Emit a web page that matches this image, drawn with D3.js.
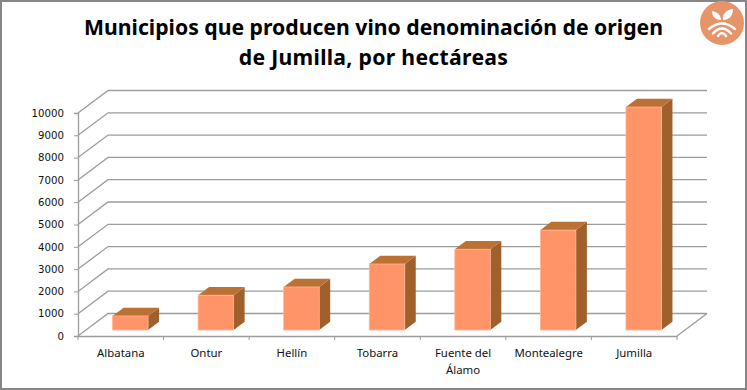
<!DOCTYPE html>
<html>

<head>
    <meta charset="UTF-8">
    <title>Municipios que producen vino denominación de origen de Jumilla</title>
    <script src="https://d3js.org/d3.v7.min.js"></script>
    <style>
        html, body { margin: 0; padding: 0; background: #fff; overflow: hidden; }
        svg { display: block; }
    </style>
</head>

<body>
    <script>
        const municipios = ["Albatana", "Ontur", "Hellín", "Tobarra", "Fuente del|Álamo", "Montealegre", "Jumilla"];
        const hectareas = [630, 1560, 1930, 2960, 3620, 4480, 10000];
        const yTicks = [0, 1000, 2000, 3000, 4000, 5000, 6000, 7000, 8000, 9000, 10000];
        const titleLines = ["Municipios que producen vino denominación de origen", "de Jumilla, por hectáreas"];

        const width = 747, height = 390;
        const depth = { x: 30, y: -22.5 };      // floor depth, front to back wall
        const barDepth = { x: 11, y: -8.3 };    // depth of a bar
        const barShift = { x: 9.5, y: -6 };     // bars sit a bit behind the front edge

        const xScale = d3.scaleBand().domain(municipios).range([78, 677]).paddingInner(0).paddingOuter(0);
        const yScale = d3.scaleLinear().domain([0, 10000]).range([336, 113]);

        const svg = d3.select("body").append("svg")
            .attr("width", width).attr("height", height);

        svg.append("rect")
            .attr("x", 1).attr("y", 1)
            .attr("width", 745).attr("height", 388)
            .attr("fill", "#fff").attr("stroke", "#868686").attr("stroke-width", 2);

        // gridlines on the side and back wall
        const grid = svg.append("g").attr("fill", "none").attr("stroke", "#9c9c9c").attr("stroke-width", 1.3);
        grid.selectAll("path")
            .data(yTicks)
            .enter().append("path")
            .attr("d", d => {
                const y = yScale(d);
                return `M${xScale.range()[0]},${y}L${xScale.range()[0] + depth.x},${y + depth.y}H${xScale.range()[1] + depth.x}`;
            });

        // floor right edge
        grid.append("path")
            .attr("d", `M${xScale.range()[1]},${yScale(0)}L${xScale.range()[1] + depth.x},${yScale(0) + depth.y}`);

        const yAxis = d3.axisLeft(yScale).tickValues(yTicks).tickSize(4).tickFormat(d3.format("d"));
        const yG = svg.append("g").attr("transform", `translate(${xScale.range()[0]},0)`).call(yAxis);
        yG.select(".domain").attr("stroke", "#9c9c9c").attr("stroke-width", 1.3);
        yG.selectAll("line").attr("stroke", "#9c9c9c");
        yG.selectAll("text")
            .attr("font-family", "DejaVu Sans").attr("font-size", 10.2).attr("fill", "#111")
            .attr("x", -14);

        const xAxis = d3.axisBottom(xScale).tickSize(0).tickFormat("");
        const xG = svg.append("g").attr("transform", `translate(0,${yScale(0)})`).call(xAxis);
        xG.select(".domain").attr("stroke", "#9c9c9c").attr("stroke-width", 1.6);

        // ticks sit between categories
        const edges = municipios.map(d => xScale(d)).concat(xScale.range()[1]);
        xG.selectAll(".edge")
            .data(edges)
            .enter().append("line")
            .attr("class", "edge")
            .attr("x1", d => d).attr("x2", d => d)
            .attr("y1", 0).attr("y2", 4)
            .attr("stroke", "#9c9c9c");

        const labels = svg.append("g")
            .attr("font-family", "Noto Sans").attr("font-size", 11.4).attr("fill", "#111")
            .attr("text-anchor", "middle");
        labels.selectAll("text")
            .data(municipios)
            .enter().append("text")
            .attr("transform", d => `translate(${xScale(d) + xScale.bandwidth() / 2},357)`)
            .selectAll("tspan")
            .data(d => d.split("|"))
            .enter().append("tspan")
            .attr("x", 0)
            .attr("y", (d, i) => i * 16.5)
            .text(d => d);

        // bars: side, top and front faces
        const barWidth = 35.5;
        const barX = d => xScale(d) + (xScale.bandwidth() - barWidth) / 2 + barShift.x;
        const bars = svg.append("g").selectAll("g")
            .data(municipios.map((name, i) => ({ name, value: hectareas[i] })))
            .enter().append("g");

        bars.append("path")
            .attr("fill", "#9f602c")
            .attr("d", d => {
                const x = barX(d.name) + barWidth, y0 = yScale(0) + barShift.y, y1 = yScale(d.value) + barShift.y;
                return `M${x},${y0}V${y1}l${barDepth.x},${barDepth.y}V${y0 + barDepth.y}Z`;
            });
        bars.append("path")
            .attr("fill", "#bb7133")
            .attr("d", d => {
                const x = barX(d.name), y1 = yScale(d.value) + barShift.y;
                return `M${x},${y1}h${barWidth}l${barDepth.x},${barDepth.y}h${-barWidth}Z`;
            });
        bars.append("rect")
            .attr("fill", "#ff9468")
            .attr("stroke", "#ffb592").attr("stroke-width", 0.8)
            .attr("x", d => barX(d.name))
            .attr("y", d => yScale(d.value) + barShift.y)
            .attr("width", barWidth)
            .attr("height", d => yScale(0) - yScale(d.value));

        svg.append("g")
            .attr("font-family", "Noto Sans").attr("font-weight", 700).attr("font-size", 21.2)
            .attr("fill", "#000").attr("text-anchor", "middle")
            .selectAll("text")
            .data(titleLines)
            .enter().append("text")
            .attr("x", 373.5)
            .attr("y", (d, i) => 35 + i * 30)
            .attr("letter-spacing", (d, i) => i ? 0.3 : 0)
            .text(d => d);

        // logo
        const logo = svg.append("g").attr("transform", "translate(722,23)");
        logo.append("circle").attr("r", 22).attr("fill", "#e7946b");
        logo.append("path").attr("fill", "#fff")
            .attr("d", "M-1,-3C-6,-3 -10,-6 -10,-12C-5,-11 -1,-8 -1,-3Z");
        logo.append("path").attr("fill", "#fff")
            .attr("d", "M1,-3C0,-9 4,-13 11,-14C11,-7 7,-3 1,-3Z");
        logo.selectAll(".arc")
            .data([[13, 6, 0.5], [9, 10.5, 5.5], [4, 13, 10]])
            .enter().append("path")
            .attr("fill", "none").attr("stroke", "#fff").attr("stroke-width", 2.4).attr("stroke-linecap", "round")
            .attr("d", d => `M${-d[0]},${d[1]}Q0,${2 * d[2] - d[1]} ${d[0]},${d[1]}`);
    </script>
</body>

</html>
